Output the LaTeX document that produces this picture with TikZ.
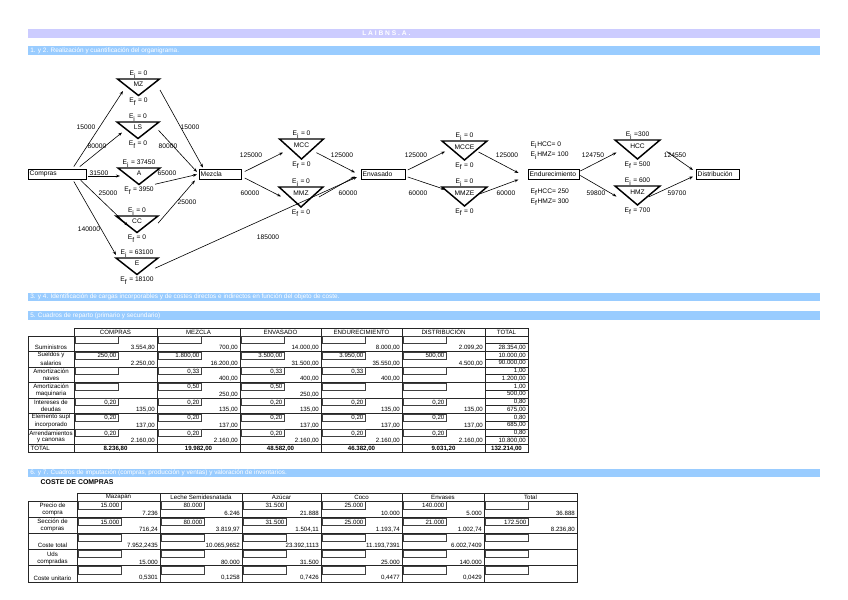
\documentclass[tikz,border=0pt]{standalone}
\usepackage{fontspec}
\setmainfont{Liberation Sans}
\usetikzlibrary{arrows.meta,calc}
\definecolor{barA}{RGB}{204,204,255}
\definecolor{barB}{RGB}{153,204,255}
% triangle: #1 name, #2 cx, #3 top, #4 w, #5 h, #6 inner label, #7 Ei text, #8 Ef text
\newcommand\mktri[8]{%
  \node[inner sep=0pt, outer sep=0pt, minimum width=#4*0.75pt, minimum height=#5*0.75pt] (#1) at (#2,#3+#5/2) {};
  \draw[tribd] (#1.north west) -- (#1.north east) -- (#1.south) -- cycle;
  \node[lbl] (#1-in) at ($(#1.north)+(0,#5*0.33)$) {#6};
  \node[lbl] (#1-ei) at ($(#1.north)+(0,-4.5)$) {#7};
  \node[lbl] (#1-ef) at ($(#1.south)+(0,6)$) {#8};
}
% table cell: #1 left, #2 right, #3 top, #4 row height, #5 box value, #6 value, #7 name
\newcommand\tcell[7]{%
  \draw[cellbox] (#1+1.5,#3+0.7) rectangle (#1+44,#3+#4*0.5);
  \node[num, anchor=east] (#7a) at (#1+43,#3+#4*0.29) {#5};
  \node[num, anchor=east] (#7b) at (#2-1.5,#3+#4*0.76) {#6};
}
\begin{document}
\begin{tikzpicture}[x=0.75pt,y=-0.75pt,
  lbl/.style={font=\fontsize{5}{6}\selectfont, inner sep=0.3pt},
  num/.style={font=\fontsize{4.6}{5.5}\selectfont, inner sep=0.3pt},
  rowlbl/.style={font=\fontsize{4.6}{5.5}\selectfont, inner sep=0.3pt},
  hd/.style={font=\fontsize{4.6}{5.5}\selectfont, inner sep=0.3pt},
  bartxt/.style={font=\fontsize{4.8}{5.5}\selectfont, text=white, inner sep=0pt, anchor=west},
  proc/.style={draw, line width=0.6pt, fill=white, inner xsep=1pt, inner ysep=0pt,
    minimum height=7.5pt, anchor=west, align=left, font=\fontsize{5}{6}\selectfont},
  tribd/.style={line width=1.1pt, line join=miter},
  arr/.style={line width=0.45pt, -{Stealth[length=3pt,width=2.2pt]}},
  grid/.style={line width=0.5pt, draw=black!85},
  cellbox/.style={line width=0.4pt, draw=black!75}]
\useasboundingbox (0,0) rectangle (848,599);
\fill[white] (0,0) rectangle (848,599);

% ---------- header bars ----------
\fill[barA] (28,29) rectangle (820,38);
\node[bartxt, font=\bfseries\fontsize{5}{6}\selectfont] (b1) at (362,33.5) {L A I B N S . A .};
\fill[barB] (28,46) rectangle (820,55);
\node[bartxt] (b2) at (30,50.5) {1. y 2. Realización y cuantificación del organigrama.};
\fill[barB] (28,293) rectangle (820,301);
\node[bartxt] (b3) at (30,297) {3. y 4. Identificación de cargas incorporables y de costes directos e indirectos en función del objeto de coste.};
\fill[barB] (28,311) rectangle (820,320);
\node[bartxt] (b4) at (30,315.5) {5. Cuadros de reparto (primario y secundario)};
\fill[barB] (28,469) rectangle (820,477);
\node[bartxt] (b5) at (30,473) {6. y 7. Cuadros de imputación (compras, producción y ventas) y valoración de inventarios.};

% ---------- flow diagram ----------
\node[proc, text width=41.5pt] (compras) at (28,174) {Compras};
\node[proc, text width=29.5pt] (mezcla) at (199,174) {Mezcla};
\node[proc, text width=31pt] (envasado) at (361,174) {Envasado};
\node[proc, text width=36.25pt] (endurecimiento) at (528,174) {Endurecimiento};
\node[proc, text width=30.25pt] (distribucion) at (696,174) {Distribución};

\mktri{tmz}{138.5}{79}{42}{16.5}{MZ}{E\textsubscript{i} = 0}{E\textsubscript{f} = 0}
\mktri{tls}{138}{122}{42}{16.5}{LS}{E\textsubscript{i} = 0}{E\textsubscript{f} = 0}
\mktri{ta}{139}{168}{42}{16.5}{A}{E\textsubscript{i} = 37450}{E\textsubscript{f} = 3950}
\mktri{tcc}{137}{216}{42}{16.5}{CC}{E\textsubscript{i} = 0}{E\textsubscript{f} = 0}
\mktri{te}{137}{258}{42}{16.5}{E}{E\textsubscript{i} = 63100}{E\textsubscript{f} = 18100}
\mktri{tmcc}{301.5}{139}{44}{20}{MCC}{E\textsubscript{i} = 0}{E\textsubscript{f} = 0}
\mktri{tmmz}{301}{187}{44}{20}{MMZ}{E\textsubscript{i} = 0}{E\textsubscript{f} = 0}
\mktri{tmcce}{464.5}{141}{45}{19}{MCCE}{E\textsubscript{i} = 0}{E\textsubscript{f} = 0}
\mktri{tmmze}{464.5}{187}{45}{19}{MMZE}{E\textsubscript{i} = 0}{E\textsubscript{f} = 0}
\mktri{thcc}{637.5}{140}{45}{19}{HCC}{E\textsubscript{i} =300}{E\textsubscript{f} = 500}
\mktri{thmz}{637.5}{186}{45}{19}{HMZ}{E\textsubscript{i} = 600}{E\textsubscript{f} = 700}

\draw[arr] ($(compras.north east)+(-13,-2)$) -- ($(tmz.west)+(5.5,3.75)$);
\draw[arr] ($(compras.north east)+(-7,-2)$) -- ($(tls.west)+(5,2.25)$);
\draw[arr] ($(compras.east)+(1,2)$) -- ($(ta.west)+(2,-0.25)$);
\draw[arr] ($(compras.south east)+(-6,1)$) -- ($(tcc.west)+(12,1.5)$);
\draw[arr] ($(compras.south east)+(-13,2)$) -- ($(te.north west)+(0,-3)$);
\draw[arr] ($(tmz.east)+(0.5,2.75)$) -- ($(mezcla.north west)+(4,-1)$);
\draw[arr] ($(tls.east)+(-0.5,0)$) -- ($(mezcla.west)+(-2,-2)$);
\draw[arr] ($(ta.east)+(-5,8)$) -- ($(mezcla.west)+(-2,0.5)$);
\draw[arr] ($(tcc.east)+(0,-1)$) -- ($(mezcla.south west)+(-4,1)$);
\draw[arr] ($(te.east)+(-3,2)$) -- ($(envasado.west)+(-4,3)$);
\draw[arr] ($(mezcla.east)+(3,-2.5)$) -- ($(tmcc.west)+(3.5,3.5)$);
\draw[arr] ($(mezcla.east)+(3,4)$) -- ($(tmmz.west)+(2,-0.5)$);
\draw[arr] ($(tmcc.east)+(-7,3.7)$) -- ($(envasado.west)+(-6,-1.5)$);
\draw[arr] ($(tmmz.east)+(-4,0)$) -- ($(envasado.west)+(-6,2.5)$);
\draw[arr] ($(envasado.east)+(2,-4)$) -- ($(tmcce.west)+(3,1)$);
\draw[arr] ($(envasado.east)+(2,3)$) -- ($(tmmze.west)+(3,-7)$);
\draw[arr] ($(tmcce.east)+(-8.5,1.5)$) -- ($(endurecimiento.west)+(-9.5,-1)$);
\draw[arr] ($(tmmze.east)+(-7.5,-2.5)$) -- ($(endurecimiento.west)+(-9.5,5.5)$);
\draw[arr] ($(endurecimiento.east)+(0.5,-3)$) -- ($(thcc.west)+(1.5,3)$);
\draw[arr] ($(endurecimiento.east)+(0.5,1.5)$) -- ($(thmz.west)+(1.5,1)$);
\draw[arr] ($(thcc.east)+(6.5,2)$) -- ($(distribucion.west)+(-3,-4)$);
\draw[arr] ($(thmz.east)+(-11.5,1.5)$) -- ($(distribucion.west)+(-3,2.5)$);

\node[lbl] (l1) at (86,127.5) {15000};
\node[lbl] (l2) at (97,146) {80000};
\node[lbl] (l3) at (99,173) {31500};
\node[lbl] (l4) at (108,193) {25000};
\node[lbl] (l5) at (89,229) {140000};
\node[lbl] (l6) at (190,127) {15000};
\node[lbl] (l7) at (168,146) {80000};
\node[lbl] (l8) at (167,173) {65000};
\node[lbl] (l9) at (187,202) {25000};
\node[lbl] (l10) at (268,237) {185000};
\node[lbl] (l11) at (251,155) {125000};
\node[lbl] (l12) at (250,193) {60000};
\node[lbl] (l13) at (342,155) {125000};
\node[lbl] (l14) at (348,193) {60000};
\node[lbl] (l15) at (416,155) {125000};
\node[lbl] (l16) at (418,193) {60000};
\node[lbl] (l17) at (507,155) {125000};
\node[lbl] (l18) at (506,193) {60000};
\node[lbl] (l19) at (593,155) {124750};
\node[lbl] (l20) at (596,193) {59800};
\node[lbl] (l21) at (675,155) {124550};
\node[lbl] (l22) at (677,193) {59700};

\node[lbl, anchor=west] (s1) at (530,145) {E\textsubscript{i}HCC= 0};
\node[lbl, anchor=west] (s2) at (530,155.5) {E\textsubscript{i}HMZ= 100};
\node[lbl, anchor=west] (s3) at (530,192) {E\textsubscript{f}HCC= 250};
\node[lbl, anchor=west] (s4) at (530,202) {E\textsubscript{f}HMZ= 300};

% ---------- table 1: cuadro de reparto ----------
\draw[grid] (74,328) rectangle (528,336);
\foreach \x in {157,240,321,402,485} \draw[grid] (\x,328) -- (\x,336);
\node[hd] (h11) at (115.5,332) {COMPRAS};
\node[hd] (h12) at (198.5,332) {MEZCLA};
\node[hd] (h13) at (280.5,332) {ENVASADO};
\node[hd] (h14) at (361.5,332) {ENDURECIMIENTO};
\node[hd] (h15) at (443.5,332) {DISTRIBUCIÓN};
\node[hd] (h16) at (506.5,332) {TOTAL};
\draw[grid] (28,336) rectangle (528,452.5);
\foreach \y in {351.5,367,382.5,398,413.5,429,444.5} \draw[grid] (28,\y) -- (528,\y);
\foreach \x in {74,157,240,321,402,485} \draw[grid] (\x,336) -- (\x,452.5);
\foreach \y in {343.75,359.25,374.75,390.25,405.75,421.25,436.75} \draw[grid] (485,\y) -- (528,\y);

% row labels
\node[rowlbl] (ra1) at (51,347.6) {Suministros};
\node[rowlbl] (ra2) at (51,355.4) {Sueldos y}; \node[rowlbl] (ra2b) at (51,363) {salarios};
\node[rowlbl] (ra3) at (51,370.9) {Amortización}; \node[rowlbl] (ra3b) at (51,378.5) {naves};
\node[rowlbl] (ra4) at (51,386.4) {Amortización}; \node[rowlbl] (ra4b) at (51,394) {maquinaria};
\node[rowlbl] (ra5) at (51,401.9) {Intereses de}; \node[rowlbl] (ra5b) at (51,409.5) {deudas};
\node[rowlbl] (ra6) at (51,417.4) {Elemento supl}; \node[rowlbl] (ra6b) at (51,425) {incorporado};
\node[rowlbl] (ra7) at (51,432.9) {Arrendamientos}; \node[rowlbl] (ra7b) at (51,440.5) {y canonas};
\node[rowlbl, anchor=west] (ra8) at (30,448.5) {TOTAL};

% row 1
\tcell{74}{157}{336}{15.5}{}{3.554,80}{c11}
\tcell{157}{240}{336}{15.5}{}{700,00}{c12}
\tcell{240}{321}{336}{15.5}{}{14.000,00}{c13}
\tcell{321}{402}{336}{15.5}{}{8.000,00}{c14}
\tcell{402}{485}{336}{15.5}{}{2.099,20}{c15}
% row 2
\tcell{74}{157}{351.5}{15.5}{250,00}{2.250,00}{c21}
\tcell{157}{240}{351.5}{15.5}{1.800,00}{16.200,00}{c22}
\tcell{240}{321}{351.5}{15.5}{3.500,00}{31.500,00}{c23}
\tcell{321}{402}{351.5}{15.5}{3.950,00}{35.550,00}{c24}
\tcell{402}{485}{351.5}{15.5}{500,00}{4.500,00}{c25}
% row 3
\tcell{74}{157}{367}{15.5}{}{}{c31}
\tcell{157}{240}{367}{15.5}{0,33}{400,00}{c32}
\tcell{240}{321}{367}{15.5}{0,33}{400,00}{c33}
\tcell{321}{402}{367}{15.5}{0,33}{400,00}{c34}
\tcell{402}{485}{367}{15.5}{}{}{c35}
% row 4
\tcell{74}{157}{382.5}{15.5}{}{}{c41}
\tcell{157}{240}{382.5}{15.5}{0,50}{250,00}{c42}
\tcell{240}{321}{382.5}{15.5}{0,50}{250,00}{c43}
\tcell{321}{402}{382.5}{15.5}{}{}{c44}
\tcell{402}{485}{382.5}{15.5}{}{}{c45}
% row 5
\tcell{74}{157}{398}{15.5}{0,20}{135,00}{c51}
\tcell{157}{240}{398}{15.5}{0,20}{135,00}{c52}
\tcell{240}{321}{398}{15.5}{0,20}{135,00}{c53}
\tcell{321}{402}{398}{15.5}{0,20}{135,00}{c54}
\tcell{402}{485}{398}{15.5}{0,20}{135,00}{c55}
% row 6
\tcell{74}{157}{413.5}{15.5}{0,20}{137,00}{c61}
\tcell{157}{240}{413.5}{15.5}{0,20}{137,00}{c62}
\tcell{240}{321}{413.5}{15.5}{0,20}{137,00}{c63}
\tcell{321}{402}{413.5}{15.5}{0,20}{137,00}{c64}
\tcell{402}{485}{413.5}{15.5}{0,20}{137,00}{c65}
% row 7
\tcell{74}{157}{429}{15.5}{0,20}{2.160,00}{c71}
\tcell{157}{240}{429}{15.5}{0,20}{2.160,00}{c72}
\tcell{240}{321}{429}{15.5}{0,20}{2.160,00}{c73}
\tcell{321}{402}{429}{15.5}{0,20}{2.160,00}{c74}
\tcell{402}{485}{429}{15.5}{0,20}{2.160,00}{c75}
% total column
\node[num, anchor=east] (tt1b) at (526.5,347.6) {28.354,00};
\node[num, anchor=east] (tt2a) at (526.5,355.4) {10.000,00};
\node[num, anchor=east] (tt2b) at (526.5,363) {90.000,00};
\node[num, anchor=east] (tt3a) at (526.5,370.9) {1,00};
\node[num, anchor=east] (tt3b) at (526.5,378.5) {1.200,00};
\node[num, anchor=east] (tt4a) at (526.5,386.4) {1,00};
\node[num, anchor=east] (tt4b) at (526.5,394) {500,00};
\node[num, anchor=east] (tt5a) at (526.5,401.9) {0,80};
\node[num, anchor=east] (tt5b) at (526.5,409.5) {675,00};
\node[num, anchor=east] (tt6a) at (526.5,417.4) {0,80};
\node[num, anchor=east] (tt6b) at (526.5,425) {685,00};
\node[num, anchor=east] (tt7a) at (526.5,432.9) {0,80};
\node[num, anchor=east] (tt7b) at (526.5,440.5) {10.800,00};
% totals row
\node[num, font=\bfseries\fontsize{4.6}{5.5}\selectfont] (tr1) at (115.5,448.5) {8.236,80};
\node[num, font=\bfseries\fontsize{4.6}{5.5}\selectfont] (tr2) at (198.5,448.5) {19.982,00};
\node[num, font=\bfseries\fontsize{4.6}{5.5}\selectfont] (tr3) at (280.5,448.5) {48.582,00};
\node[num, font=\bfseries\fontsize{4.6}{5.5}\selectfont] (tr4) at (361.5,448.5) {46.382,00};
\node[num, font=\bfseries\fontsize{4.6}{5.5}\selectfont] (tr5) at (443.5,448.5) {9.031,20};
\node[num, font=\bfseries\fontsize{4.6}{5.5}\selectfont] (tr6) at (506.5,448.5) {132.214,00};

% ---------- table 2: coste de compras ----------
\node[lbl, anchor=west, font=\bfseries\fontsize{5.2}{6}\selectfont] (cdc) at (40,482.5) {COSTE DE COMPRAS};
\draw[grid] (77,493) rectangle (577,501);
\foreach \x in {160,242,321,402,484} \draw[grid] (\x,493) -- (\x,501);
\node[hd] (h21) at (118.5,497) {Mazapán};
\node[hd] (h22) at (201,497) {Leche Semidesnatada};
\node[hd] (h23) at (281.5,497) {Azúcar};
\node[hd] (h24) at (361.5,497) {Coco};
\node[hd] (h25) at (443,497) {Envases};
\node[hd] (h26) at (530.5,497) {Total};
\draw[grid] (28,501) rectangle (577,582);
\foreach \y in {517.2,533.4,549.6,565.8} \draw[grid] (28,\y) -- (577,\y);
\foreach \x in {77,160,242,321,402,484} \draw[grid] (\x,501) -- (\x,582);

\node[rowlbl] (rb1) at (52.5,505.3) {Precio de}; \node[rowlbl] (rb1b) at (52.5,513.1) {compra};
\node[rowlbl] (rb2) at (52.5,521.5) {Sección de}; \node[rowlbl] (rb2b) at (52.5,529.3) {compras};
\node[rowlbl] (rb3) at (52.5,545.5) {Coste total};
\node[rowlbl] (rb4) at (52.5,553.9) {Uds};\node[rowlbl] (rb4b) at (52.5,561.7) {compradas};
\node[rowlbl] (rb5) at (52.5,578) {Coste unitario};

% row 1
\tcell{77}{160}{501}{16.2}{15.000}{7.236}{d11}
\tcell{160}{242}{501}{16.2}{80.000}{6.246}{d12}
\tcell{242}{321}{501}{16.2}{31.500}{21.888}{d13}
\tcell{321}{402}{501}{16.2}{25.000}{10.000}{d14}
\tcell{402}{484}{501}{16.2}{140.000}{5.000}{d15}
\tcell{484}{577}{501}{16.2}{}{36.888}{d16}
% row 2
\tcell{77}{160}{517.2}{16.2}{15.000}{716,24}{d21}
\tcell{160}{242}{517.2}{16.2}{80.000}{3.819,97}{d22}
\tcell{242}{321}{517.2}{16.2}{31.500}{1.504,11}{d23}
\tcell{321}{402}{517.2}{16.2}{25.000}{1.193,74}{d24}
\tcell{402}{484}{517.2}{16.2}{21.000}{1.002,74}{d25}
\tcell{484}{577}{517.2}{16.2}{172.500}{8.236,80}{d26}
% row 3
\tcell{77}{160}{533.4}{16.2}{}{7.952,2435}{d31}
\tcell{160}{242}{533.4}{16.2}{}{10.065,9652}{d32}
\tcell{242}{321}{533.4}{16.2}{}{23.392,1113}{d33}
\tcell{321}{402}{533.4}{16.2}{}{11.193,7391}{d34}
\tcell{402}{484}{533.4}{16.2}{}{6.002,7409}{d35}
\tcell{484}{577}{533.4}{16.2}{}{}{d36}
% row 4
\tcell{77}{160}{549.6}{16.2}{}{15.000}{d41}
\tcell{160}{242}{549.6}{16.2}{}{80.000}{d42}
\tcell{242}{321}{549.6}{16.2}{}{31.500}{d43}
\tcell{321}{402}{549.6}{16.2}{}{25.000}{d44}
\tcell{402}{484}{549.6}{16.2}{}{140.000}{d45}
\tcell{484}{577}{549.6}{16.2}{}{}{d46}
% row 5
\tcell{77}{160}{565.8}{16.2}{}{0,5301}{d51}
\tcell{160}{242}{565.8}{16.2}{}{0,1258}{d52}
\tcell{242}{321}{565.8}{16.2}{}{0,7426}{d53}
\tcell{321}{402}{565.8}{16.2}{}{0,4477}{d54}
\tcell{402}{484}{565.8}{16.2}{}{0,0429}{d55}
\tcell{484}{577}{565.8}{16.2}{}{}{d56}
\end{tikzpicture}
\end{document}
